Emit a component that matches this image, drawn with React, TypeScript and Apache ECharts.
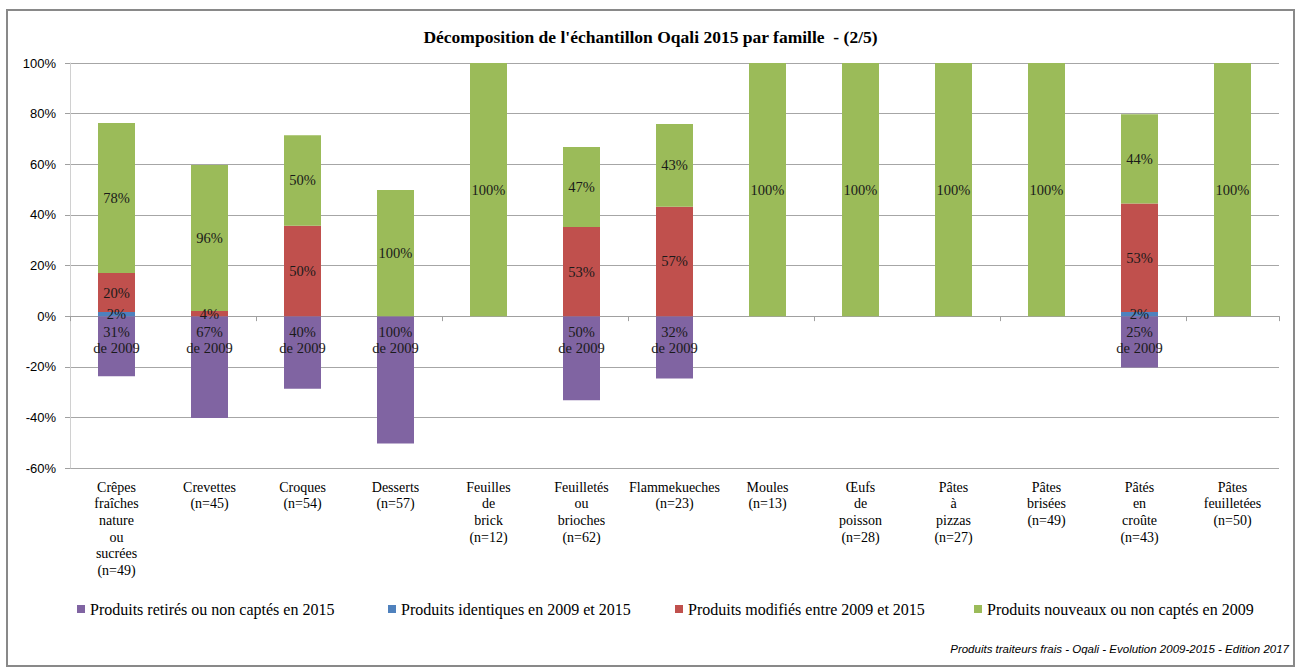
import React, { useEffect, useRef } from "react";
import * as echarts from "echarts";

const categories = [
  "Crêpes\nfraîches\nnature\nou\nsucrées\n(n=49)",
  "Crevettes\n(n=45)",
  "Croques\n(n=54)",
  "Desserts\n(n=57)",
  "Feuilles\nde\nbrick\n(n=12)",
  "Feuilletés\nou\nbrioches\n(n=62)",
  "Flammekueches\n(n=23)",
  "Moules\n(n=13)",
  "Œufs\nde\npoisson\n(n=28)",
  "Pâtes\nà\npizzas\n(n=27)",
  "Pâtes\nbrisées\n(n=49)",
  "Pâtés\nen\ncroûte\n(n=43)",
  "Pâtes\nfeuilletées\n(n=50)",
];

const seriesNames = [
  "Produits retirés ou non captés en 2015",
  "Produits identiques en 2009 et 2015",
  "Produits modifiés entre 2009 et 2015",
  "Produits nouveaux ou non captés en 2009",
];

const retiredValues = [-23.8, -40.2, -28.7, -50.3, 0, -33.2, -24.6, 0, 0, 0, 0, -20.3, 0];
const identicalValues = [1.6, 0, 0, 0, 0, 0, 0, 0, 0, 0, 0, 1.6, 0];
const modifiedValues = [15.4, 2.0, 35.7, 0, 0, 35.2, 43.2, 0, 0, 0, 0, 42.9, 0];
const newValues = [59.3, 57.7, 35.8, 49.8, 100, 31.6, 32.7, 100, 100, 100, 100, 35.3, 100];

const retiredLabels = ["31%\nde 2009", "67%\nde 2009", "40%\nde 2009", "100%\nde 2009", "", "50%\nde 2009", "32%\nde 2009", "", "", "", "", "25%\nde 2009", ""];
const identicalLabels = ["2%", "", "", "", "", "", "", "", "", "", "", "2%", ""];
const modifiedLabels = ["20%", "4%", "50%", "", "", "53%", "57%", "", "", "", "", "53%", ""];
const newLabels = ["78%", "96%", "50%", "100%", "100%", "47%", "43%", "100%", "100%", "100%", "100%", "44%", "100%"];

const colors = ["#8064A2", "#4F81BD", "#C0504D", "#9BBB59"];
const legendLefts = [72, 383, 670, 969];

const titleText = "Décomposition de l'échantillon Oqali 2015 par famille  - (2/5)";
const footerText = "Produits traiteurs frais - Oqali - Evolution 2009-2015 - Edition 2017";

const serif = "'Liberation Serif', 'Times New Roman', serif";

export default function App() {
  const ref = useRef<HTMLDivElement>(null);

  useEffect(() => {
    document.body.style.margin = "0";
    if (!ref.current) return;
    const chart = echarts.init(ref.current, null, { renderer: "svg" });

    const values = [retiredValues, identicalValues, modifiedValues, newValues];
    const labels = [retiredLabels, identicalLabels, modifiedLabels, newLabels];

    const series = seriesNames.map((name, i) => ({
      name,
      type: "bar",
      stack: "total",
      xAxisIndex: 0,
      barWidth: 37,
      data: values[i],
      itemStyle: { color: colors[i] },
      label: {
        show: true,
        position: i === 0 ? "insideTop" : "inside",
        distance: 8,
        formatter: (p: any) => labels[i][p.dataIndex],
        fontFamily: serif,
        fontSize: 14.5,
        lineHeight: 16,
        color: "#1a1a1a",
      },
    }));

    chart.setOption({
      animation: false,
      title: {
        text: titleText,
        left: "center",
        top: 23,
        textStyle: { fontFamily: serif, fontWeight: "bold", fontSize: 17.5, color: "#000" },
      },
      legend: seriesNames.map((n, i) => ({
        data: [n],
        left: legendLefts[i],
        top: 596,
        itemWidth: 8,
        itemHeight: 8,
        itemGap: 5,
        icon: "rect",
        selectedMode: false,
        textStyle: { fontFamily: serif, fontSize: 16, color: "#000" },
      })),
      grid: { left: 70, right: 22, top: 63, bottom: 202, containLabel: false },
      xAxis: [
        {
          type: "category",
          data: categories,
          axisLine: { onZero: true, lineStyle: { color: "#a0a0a0", width: 1 } },
          axisTick: { show: true, alignWithLabel: false, length: 5, lineStyle: { color: "#a0a0a0" } },
          axisLabel: { show: false },
          splitLine: { show: false },
        },
        {
          type: "category",
          data: categories,
          position: "bottom",
          axisLine: { show: false },
          axisTick: { show: false },
          axisLabel: {
            interval: 0,
            margin: 11,
            fontFamily: serif,
            fontSize: 14,
            lineHeight: 16.6,
            color: "#000",
          },
        },
      ],
      yAxis: {
        type: "value",
        min: -60,
        max: 100,
        interval: 20,
        axisLine: { show: true, lineStyle: { color: "#d0d0d0", width: 1 } },
        axisTick: { show: true, length: 5, lineStyle: { color: "#a0a0a0" } },
        axisLabel: {
          formatter: "{value}%",
          margin: 14,
          fontFamily: "'Liberation Sans', Arial, sans-serif",
          fontSize: 13,
          color: "#000",
        },
        splitLine: { show: true, lineStyle: { color: "#a6a6a6", width: 1 } },
      },
      series,
      graphic: [
        {
          type: "rect",
          shape: { x: 7, y: 10, width: 1287, height: 656 },
          style: { fill: "none", stroke: "#898989", lineWidth: 2 },
          silent: true,
          z: -1,
        },
        {
          type: "text",
          right: 12,
          top: 643,
          style: {
            text: footerText,
            fontFamily: "'Liberation Sans', Arial, sans-serif",
            fontStyle: "italic",
            fontSize: 11.5,
            fill: "#000",
          },
        },
      ],
    });

    return () => chart.dispose();
  }, []);

  return <div ref={ref} style={{ width: 1301, height: 670 }} />;
}
